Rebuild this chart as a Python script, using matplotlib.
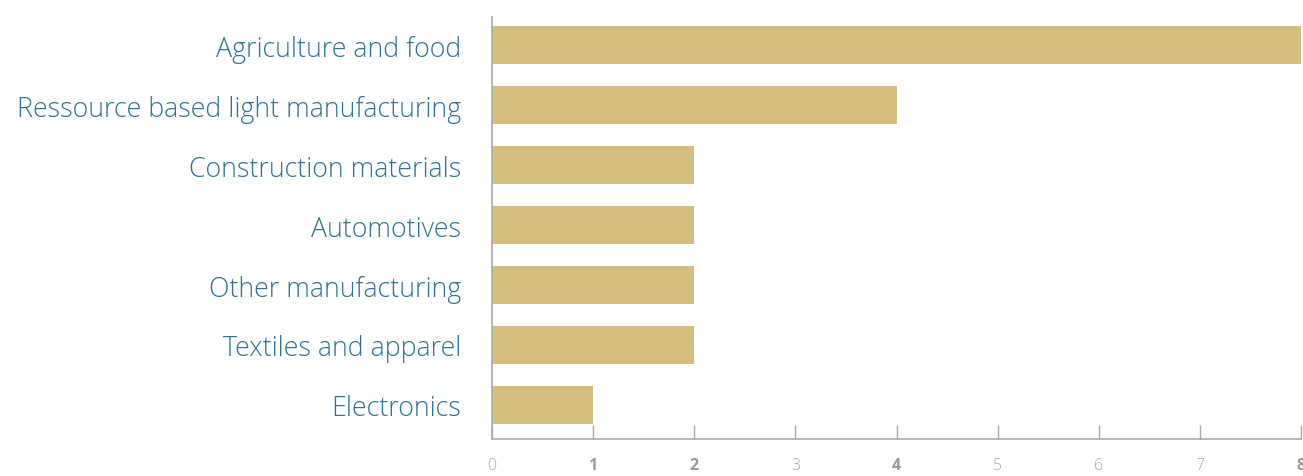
import matplotlib.pyplot as plt
import numpy as np

# sector counts
sectors = [
    "Agriculture and food",
    "Ressource based light manufacturing",
    "Construction materials",
    "Automotives",
    "Other manufacturing",
    "Textiles and apparel",
    "Electronics",
]
counts = [8, 4, 2, 2, 2, 2, 1]
x_ticks = [0, 1, 2, 3, 4, 5, 6, 7, 8]

bar_color = "#d7bd7e"
label_color = "#2f7391"
axis_color = "#aaaaaa"

plt.rcParams['font.family'] = ['Open Sans', 'DejaVu Sans']

fig = plt.figure(figsize=(13.03, 4.77), dpi=100)
ax = fig.add_axes([492 / 1303, 37 / 477, 809 / 1303, 422 / 477])

y = np.arange(len(sectors))
ax.barh(y, counts, height=0.633, color=bar_color, zorder=2)

ax.set_xlim(0, 8)
ax.set_ylim(len(sectors) - 1 + 0.567, -0.467)

ax.set_yticks(y)
ax.set_yticklabels(sectors, fontsize=19.3, color=label_color, fontweight='light')
ax.tick_params(axis='y', length=0, pad=22)

ax.set_xticks(x_ticks)
ax.set_xticklabels([str(t) for t in x_ticks], fontsize=11.5)
ax.tick_params(axis='x', direction='in', length=10, width=1, color=axis_color, pad=13)

# values present in the data get bold tick labels
used = set(counts)
for t, lbl in zip(x_ticks, ax.get_xticklabels()):
    if t in used:
        lbl.set_fontweight('bold')
        lbl.set_color('#999999')
    else:
        lbl.set_fontweight('light')
        lbl.set_color('#aaaaaa')

for side in ['top', 'right']:
    ax.spines[side].set_visible(False)
for side in ['left', 'bottom']:
    ax.spines[side].set_color(axis_color)
    ax.spines[side].set_linewidth(1.2)

fig.savefig("out.png", dpi=100)
